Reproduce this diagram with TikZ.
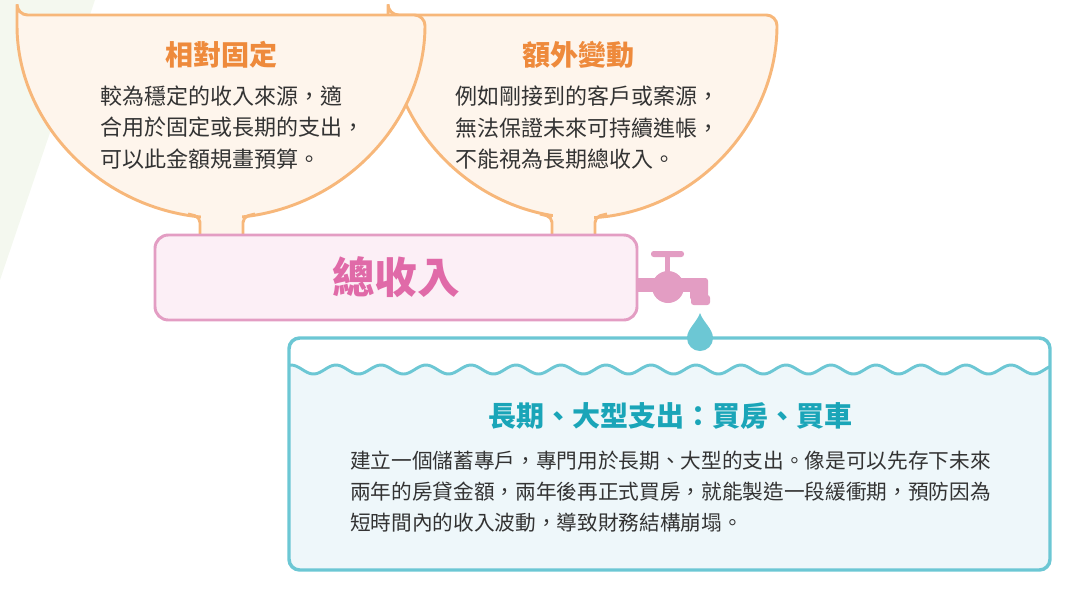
\documentclass[tikz,border=0pt]{standalone}
\usepackage{fontspec}
\setmainfont{Noto Sans CJK TC}
\definecolor{bgG}{HTML}{F4F8EF}
\definecolor{orB}{HTML}{F7B77A}
\definecolor{orF}{HTML}{FEF5EC}
\definecolor{orT}{HTML}{EE8A3C}
\definecolor{pkB}{HTML}{E39DC3}
\definecolor{pkF}{HTML}{FCEFF6}
\definecolor{pkT}{HTML}{E06AA8}
\definecolor{blB}{HTML}{6CC7D4}
\definecolor{blF}{HTML}{EEF7FA}
\definecolor{blT}{HTML}{1AA5B8}
\definecolor{txt}{HTML}{333333}
\tikzset{
 bowltitle/.style={font=\fontsize{21}{24}\selectfont\bfseries, text=orT},
 bowltext/.style={font=\fontsize{16.5}{23.3}\selectfont, text=txt, align=left, anchor=north west, inner sep=0},
 bowl/.style={draw=orB, line width=2.2pt, fill=orF},
}
\begin{document}
\begin{tikzpicture}[x=0.75pt,y=-0.75pt]
\useasboundingbox (0,0) rectangle (1071,594);
\fill[bgG] (0,0) -- (95,0) -- (0,280) -- cycle;
% right bowl
\path[bowl,rounded corners=8] (388,15) -- (777,15) arc[start angle=0,end angle=180,x radius=194.5,y radius=203] -- cycle;
\fill[orF] (553,200) rectangle (594,240);
\draw[orB,line width=2.2pt,rounded corners=4] (540,214) -- (552,217) -- (552,238);
\draw[orB,line width=2.2pt,rounded corners=4] (607,214) -- (595,217) -- (595,238);
% left bowl
\path[bowl,rounded corners=8] (17,15) -- (425,15) arc[start angle=0,end angle=180,x radius=204,y radius=203] -- cycle;
\fill[orF] (201,200) rectangle (242,240);
\draw[orB,line width=2.2pt,rounded corners=4] (188,214) -- (200,217) -- (200,238);
\draw[orB,line width=2.2pt,rounded corners=4] (255,214) -- (243,217) -- (243,238);
\node[bowltitle] (t1) at (221,55) {相對固定};
\node[bowltext] (b1) at (100,86) {較為穩定的收入來源，適\\合用於固定或長期的支出，\\可以此金額規畫預算。};
\node[bowltitle] (t2) at (578,55) {額外變動};
\node[bowltext] (b2) at (455,86) {例如剛接到的客戶或案源，\\無法保證未來可持續進帳，\\不能視為長期總收入。};
% faucet
\fill[pkB] (630,278) rectangle (700,292);
\fill[pkB] (668,287) circle[radius=16];
\fill[pkB] (665,252) rectangle (670,272);
\fill[pkB,rounded corners=2] (651,251) rectangle (684,257);
\fill[pkB,rounded corners=2] (690,278) rectangle (708,300);
\fill[pkB,rounded corners=2] (691,295) rectangle (710,305);
% total box
\node[draw=pkB,fill=pkF,line width=2.2pt,rounded corners=10,minimum width=482*0.75pt,minimum height=85*0.75pt,font=\fontsize{32}{36}\selectfont\bfseries,text=pkT] (tot) at (396,277.5) {總收入};
% blue box
\begin{scope}
\clip[rounded corners=8] (289,338) rectangle (1050,570);
\fill[white] (289,338) rectangle (1050,570);
\fill[blF] plot[domain=289:1050,samples=300] (\x,{369.5-4.5*cos(8*(\x-291))}) -- (1050,575) -- (289,575) -- cycle;
\draw[blB,line width=2.2pt] plot[domain=289:1050,samples=300] (\x,{369.5-4.5*cos(8*(\x-291))});
\end{scope}
\draw[blB,line width=2.6pt,rounded corners=8] (289,338) rectangle (1050,570);
\fill[blB] (700,313) .. controls (703,322) and (713,329) .. (713,338) arc[start angle=0,end angle=180,radius=13] .. controls (687,329) and (697,322) .. (700,313);
\node[font=\fontsize{21}{24}\selectfont\bfseries,text=blT] (t3) at (670,416) {長期、大型支出：買房、買車};
\node[font=\fontsize{15.5}{23.3}\selectfont,text=txt,align=left,anchor=north west,inner sep=0] (b3) at (350,451) {建立一個儲蓄專戶，專門用於長期、大型的支出。像是可以先存下未來\\兩年的房貸金額，兩年後再正式買房，就能製造一段緩衝期，預防因為\\短時間內的收入波動，導致財務結構崩塌。};
\end{tikzpicture}
\end{document}
